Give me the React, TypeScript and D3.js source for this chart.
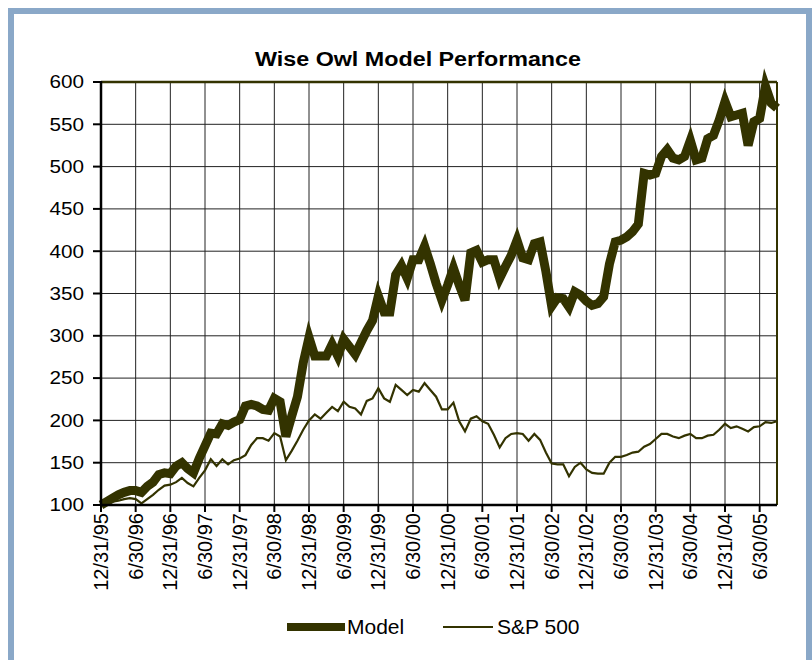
import * as d3 from 'd3'

const title = 'Wise Owl Model Performance'

const tickLabels = [
  '12/31/95', '6/30/96', '12/31/96', '6/30/97', '12/31/97', '6/30/98', '12/31/98',
  '6/30/99', '12/31/99', '6/30/00', '12/31/00', '6/30/01', '12/31/01', '6/30/02',
  '12/31/02', '6/30/03', '12/31/03', '6/30/04', '12/31/04', '6/30/05',
]

const yTicks = [100, 150, 200, 250, 300, 350, 400, 450, 500, 550, 600]

// monthly values, 12/31/95 .. 9/30/05
const model = [
  100, 104, 108, 112, 115, 117, 117, 115, 122, 127,
  136, 138, 137, 146, 150, 143, 138, 155, 170, 185,
  184, 196, 194, 198, 201, 217, 219, 217, 213, 212,
  226, 222, 181, 205, 228, 268, 298, 276, 276, 276,
  290, 276, 296, 287, 278, 292, 306, 318, 347, 328,
  328, 372, 383, 368, 390, 390, 406, 385, 362, 342,
  360, 380, 360, 342, 398, 401, 387, 390, 390, 368,
  382, 395, 413, 392, 390, 409, 411, 376, 335, 345,
  344, 334, 352, 348, 341, 336, 338, 346, 385, 411,
  413, 417, 423, 432, 492, 490, 492, 512, 520, 510,
  508, 512, 531, 508, 510, 533, 537, 555, 577, 559,
  561, 563, 525, 553, 557, 595, 575, 569,
]

const sp500 = [
  100, 102, 104, 105, 107, 108, 107, 102, 107, 112,
  118, 123, 124, 127, 132, 126, 122, 132, 141, 154,
  146, 154, 148, 153, 155, 159, 171, 179, 179, 176,
  185, 181, 153, 164, 176, 189, 200, 207, 202, 209,
  216, 211, 222, 216, 214, 207, 223, 226, 238, 226,
  222, 242, 236, 230, 236, 234, 244, 236, 228, 213,
  213, 221, 199, 187, 202, 205, 199, 196, 183, 168,
  179, 184, 185, 184, 176, 184, 177, 162, 149, 148,
  148, 134, 145, 150, 142, 138, 137, 137, 150, 157,
  157, 159, 162, 163, 169, 172, 178, 184, 184, 181,
  179, 182, 184, 179, 179, 182, 183, 189, 196, 191,
  193, 190, 187, 192, 193, 198, 197, 199,
]

const W = 812
const H = 660
const left = 101
const right = 777
const top = 82
const bottom = 505
const olive = '#333300'
const font = 'Liberation Sans, Arial, sans-serif'

const App = () => {
  const x = d3.scaleLinear().domain([0, model.length - 1]).range([left, right])
  const y = d3.scaleLinear().domain([100, 600]).range([bottom, top])
  const line = d3.line<number>().x((_, i) => x(i)).y(d => y(d))

  const tickIdx = tickLabels.map((_, i) => i * 6)

  return (
    <svg width={W} height={H} style={{ position: 'absolute', left: 0, top: 0 }}>
      <rect x={0} y={0} width={W} height={H} fill="#fff" />
      <rect x={11} y={11} width={798} height={700} fill="none" stroke="#8aa8c8" strokeWidth={6} />

      <text transform={`translate(418,66) scale(1.11,1)`} textAnchor="middle" fontFamily={font}
        fontWeight="bold" fontSize={21} fill="#000">{title}</text>

      {/* grid */}
      {yTicks.slice(1).map(t => (
        <line key={t} x1={left} x2={right} y1={y(t)} y2={y(t)} stroke="#222" strokeWidth={1} />
      ))}
      {tickIdx.slice(1).map(i => (
        <line key={i} x1={x(i)} x2={x(i)} y1={top} y2={bottom} stroke="#222" strokeWidth={1} />
      ))}
      <line x1={left} x2={right} y1={top} y2={top} stroke={olive} strokeWidth={2.5} />
      <line x1={right} x2={right} y1={top} y2={bottom} stroke={olive} strokeWidth={2} />

      {/* series */}
      <path d={line(sp500) ?? ''} fill="none" stroke={olive} strokeWidth={2.2} />
      <path d={line(model) ?? ''} fill="none" stroke={olive} strokeWidth={9} />

      {/* axes */}
      <line x1={left} x2={left} y1={top - 1} y2={bottom + 1} stroke="#000" strokeWidth={2.5} />
      <line x1={left} x2={right} y1={bottom} y2={bottom} stroke="#000" strokeWidth={2.5} />
      {yTicks.map(t => (
        <g key={t}>
          <line x1={93} x2={left} y1={y(t)} y2={y(t)} stroke="#000" strokeWidth={2} />
          <text transform={`translate(84,${y(t)}) scale(1.15,1)`} dy="0.35em" textAnchor="end"
            fontFamily={font} fontSize={18} fill="#000">{t}</text>
        </g>
      ))}
      {tickIdx.map((i, k) => (
        <g key={i}>
          <line x1={x(i)} x2={x(i)} y1={bottom} y2={bottom + 7} stroke="#000" strokeWidth={2} />
          <text transform={`translate(${x(i)},513) rotate(-90)`} dy="0.35em" textAnchor="end"
            fontFamily={font} fontSize={20} fill="#000">{tickLabels[k]}</text>
        </g>
      ))}

      {/* legend */}
      <line x1={287} x2={345} y1={627} y2={627} stroke={olive} strokeWidth={8} />
      <text x={347} y={627} dy="0.35em" fontFamily={font} fontSize={21} fill="#000">Model</text>
      <line x1={443} x2={493} y1={627} y2={627} stroke={olive} strokeWidth={2.2} />
      <text x={497} y={627} dy="0.35em" fontFamily={font} fontSize={21} fill="#000">S&amp;P 500</text>
    </svg>
  )
}

export default App
